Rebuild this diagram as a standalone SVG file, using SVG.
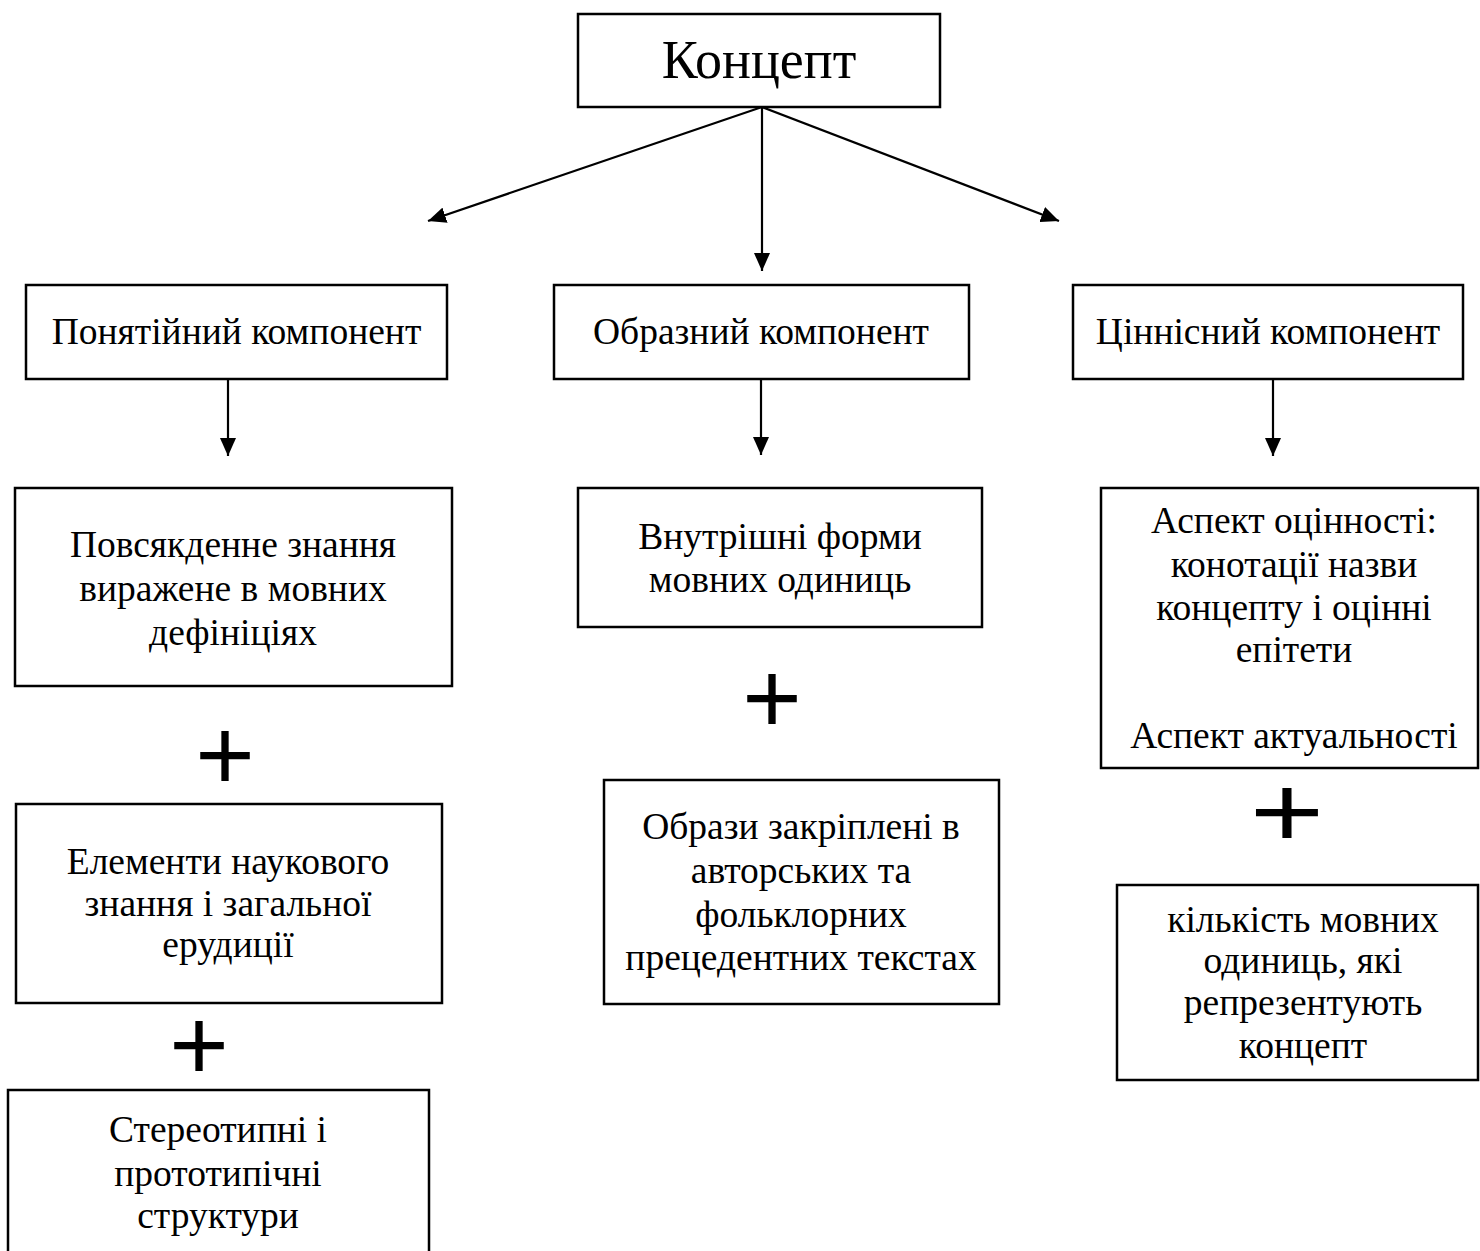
<svg xmlns="http://www.w3.org/2000/svg" width="1480" height="1251" viewBox="0 0 1480 1251">
<style>
  .box { fill: #fff; stroke: #000; stroke-width: 2.5; }
  .t { font-family: "Liberation Serif", "Times New Roman", serif; font-size: 37.5px; fill: #000; text-anchor: middle; }
  .big { font-size: 54px; }
  .plus { font-family: "Liberation Sans", Arial, sans-serif; font-size: 102px; fill: #000; text-anchor: middle; }
  .conn { stroke: #000; stroke-width: 2.2; fill: none; marker-end: url(#arrow); }
</style>
<defs>
  <marker id="arrow" markerUnits="userSpaceOnUse" markerWidth="19" markerHeight="16" refX="18" refY="8" orient="auto">
    <path d="M0,0 L18,8 L0,16 z" fill="#000"/>
  </marker>
</defs>
<rect width="1480" height="1251" fill="#fff"/>

<g id="connectors">
  <line class="conn" x1="762" y1="107" x2="428" y2="221"/>
  <line class="conn" x1="762" y1="107" x2="762" y2="271"/>
  <line class="conn" x1="762" y1="107" x2="1059" y2="221"/>
  <line class="conn" x1="228" y1="379" x2="228" y2="456"/>
  <line class="conn" x1="761" y1="379" x2="761" y2="455"/>
  <line class="conn" x1="1273" y1="379" x2="1273" y2="456"/>
</g>

<g id="concept">
  <rect class="box" x="578" y="14" width="362" height="93"/>
  <text class="t big" x="759" y="78">Концепт</text>
</g>

<g id="comp-notional">
  <rect class="box" x="26" y="285" width="421" height="94"/>
  <text class="t" x="236.5" y="344">Понятійний компонент</text>
</g>
<g id="comp-figurative">
  <rect class="box" x="554" y="285" width="415" height="94"/>
  <text class="t" x="761" y="344">Образний компонент</text>
</g>
<g id="comp-value">
  <rect class="box" x="1073" y="285" width="390" height="94"/>
  <text class="t" x="1268" y="344">Ціннісний компонент</text>
</g>

<g id="everyday-knowledge">
  <rect class="box" x="15" y="488" width="437" height="198"/>
  <text class="t" x="233" y="557">Повсякденне знання</text>
  <text class="t" x="233" y="601">виражене в мовних</text>
  <text class="t" x="233" y="645">дефініціях</text>
</g>
<g id="plus-1"><text class="plus" x="225" y="790">+</text></g>
<g id="scientific-knowledge">
  <rect class="box" x="16" y="804" width="426" height="199"/>
  <text class="t" x="228" y="874">Елементи наукового</text>
  <text class="t" x="228" y="916">знання і загальної</text>
  <text class="t" x="228" y="957">ерудиції</text>
</g>
<g id="plus-2"><text class="plus" x="199" y="1080">+</text></g>
<g id="stereotypes">
  <rect class="box" x="8" y="1090" width="421" height="175"/>
  <text class="t" x="218" y="1142">Стереотипні і</text>
  <text class="t" x="218" y="1186">прототипічні</text>
  <text class="t" x="218" y="1228">структури</text>
</g>

<g id="inner-forms">
  <rect class="box" x="578" y="488" width="404" height="139"/>
  <text class="t" x="780" y="549">Внутрішні форми</text>
  <text class="t" x="780" y="592">мовних одиниць</text>
</g>
<g id="plus-3"><text class="plus" x="772" y="733">+</text></g>
<g id="images">
  <rect class="box" x="604" y="780" width="395" height="224"/>
  <text class="t" x="801" y="839">Образи закріплені в</text>
  <text class="t" x="801" y="883">авторських та</text>
  <text class="t" x="801" y="927">фольклорних</text>
  <text class="t" x="801" y="970">прецедентних текстах</text>
</g>

<g id="evaluation">
  <rect class="box" x="1101" y="488" width="377" height="280"/>
  <text class="t" x="1294" y="533">Аспект оцінності:</text>
  <text class="t" x="1294" y="577">конотації назви</text>
  <text class="t" x="1294" y="620">концепту і оцінні</text>
  <text class="t" x="1294" y="662">епітети</text>
  <text class="t" x="1294" y="748">Аспект актуальності</text>
</g>
<g id="plus-4"><text class="plus" transform="translate(1287,847) scale(1.25,1)" x="0" y="0">+</text></g>
<g id="quantity">
  <rect class="box" x="1117" y="885" width="361" height="195"/>
  <text class="t" x="1303" y="932">кількість мовних</text>
  <text class="t" x="1303" y="973">одиниць, які</text>
  <text class="t" x="1303" y="1015">репрезентують</text>
  <text class="t" x="1303" y="1058">концепт</text>
</g>
</svg>
